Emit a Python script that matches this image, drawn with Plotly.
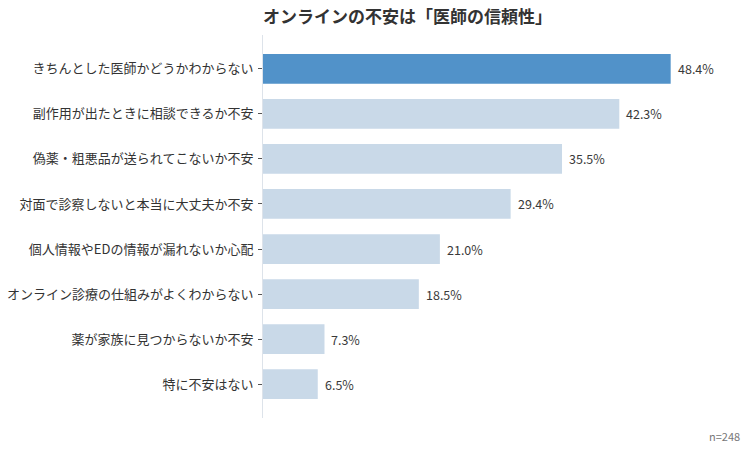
import plotly.graph_objects as go

categories = [
    "きちんとした医師かどうかわからない",
    "副作用が出たときに相談できるか不安",
    "偽薬・粗悪品が送られてこないか不安",
    "対面で診察しないと本当に大丈夫か不安",
    "個人情報やEDの情報が漏れないか心配",
    "オンライン診療の仕組みがよくわからない",
    "薬が家族に見つからないか不安",
    "特に不安はない",
]
values = [48.4, 42.3, 35.5, 29.4, 21.0, 18.5, 7.3, 6.5]
highlight = [True, False, False, False, False, False, False, False]

colors = ["#5192c9" if h else "#c9d9e8" for h in highlight]
font = "Noto Sans CJK JP"

fig = go.Figure(go.Bar(
    x=values, y=categories, orientation="h",
    marker=dict(color=colors, line=dict(width=0)),
    width=0.66,
    hoverinfo="skip",
))

for cat, v in zip(categories, values):
    fig.add_annotation(x=v, y=cat, text=f"{v:.1f}%", xanchor="left", yanchor="middle",
                       xshift=5, showarrow=False,
                       font=dict(size=12.5, color="#3a3a3a", family=font))

fig.update_layout(
    width=753, height=450,
    margin=dict(l=263, r=52, t=35, b=32, autoexpand=False),
    paper_bgcolor="white", plot_bgcolor="white",
    font=dict(family=font, color="#333333"),
    title=dict(text="<b>オンラインの不安は「医師の信頼性」</b>", x=0, xref="paper",
               xanchor="left", y=0.962, yanchor="middle",
               font=dict(size=17, color="#333333", family=font)),
    showlegend=False,
)
fig.update_xaxes(range=[0, 52], visible=False, automargin=False)
fig.update_yaxes(autorange=False, range=[7.75, -0.75], showline=True, linecolor="#dde3ea",
                 linewidth=1, ticks="outside", ticklen=4, tickcolor="#555555",
                 tickfont=dict(size=13, color="#333333", family=font), showgrid=False,
                 ticklabelstandoff=2, automargin=False)

fig.add_annotation(text="n=248", xref="paper", yref="paper", x=1.094, y=-0.047,
                   xanchor="right", yanchor="middle", showarrow=False,
                   font=dict(size=11, color="#777777", family=font))

fig.write_html("out.html")
